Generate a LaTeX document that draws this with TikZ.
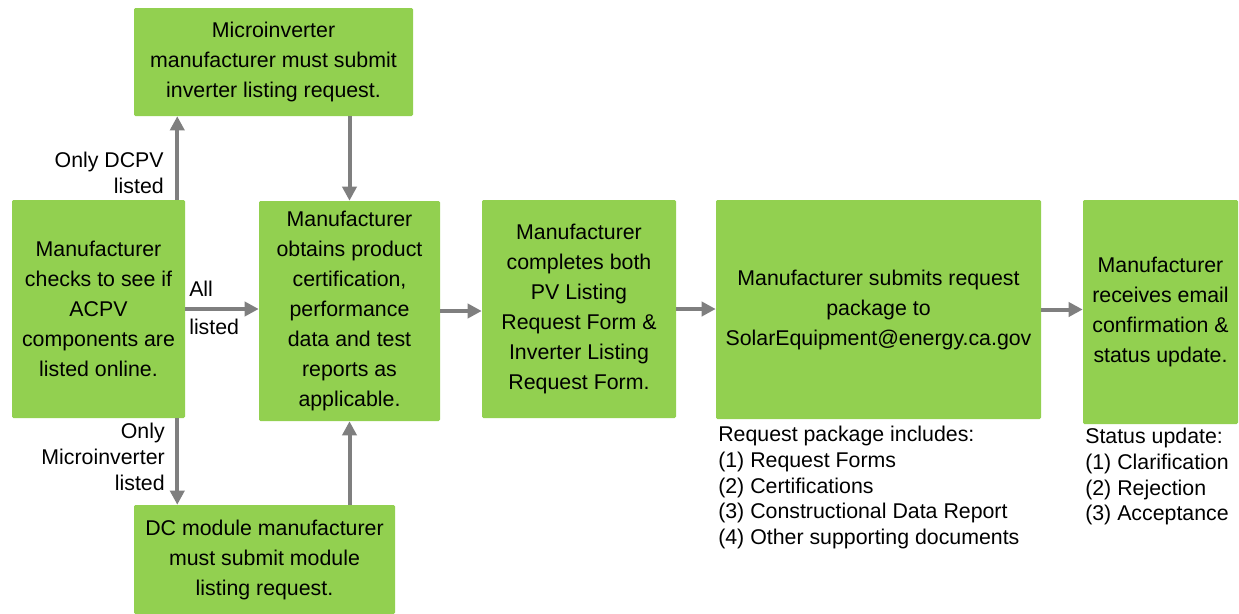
\documentclass[tikz,border=0pt]{standalone}
\usepackage{fontspec}
\setmainfont{Liberation Sans}
\usetikzlibrary{arrows.meta}
\definecolor{boxgreen}{RGB}{146,208,80}
\definecolor{arrowgray}{RGB}{127,127,127}

\begin{document}
\begin{tikzpicture}[x=0.75pt,y=0.75pt,yscale=-1,xscale=1,
  box/.style={fill=boxgreen, align=center, inner sep=0pt, rounded corners=1pt, font=\fontsize{16}{22.5}\selectfont},
  flow/.style={draw=arrowgray, line width=3pt, -{Triangle[length=10.5pt,width=10.5pt]}},
  lbl/.style={inner sep=0pt, font=\fontsize{16}{19.3}\selectfont}]
\useasboundingbox (0,0) rectangle (1239,614);

% Boxes
\node [box, minimum width=209.25pt, minimum height=81pt] (micro) at (273.5,62) {Microinverter\\manufacturer must submit\\inverter listing request.};
\node [box, minimum width=129.75pt, minimum height=163.5pt] (check) at (98.5,309) {Manufacturer\\checks to see if\\ACPV\\components are\\listed online.};
\node [box, minimum width=195.75pt, minimum height=81.75pt] (dcmod) at (264.5,559.5) {DC module manufacturer\\must submit module\\listing request.};
\node [box, minimum width=135.75pt, minimum height=165pt] (cert) at (349.5,311) {Manufacturer\\obtains product\\certification,\\performance\\data and test\\reports as\\applicable.};
\node [box, minimum width=145.5pt, minimum height=163.5pt] (complete) at (579,309) {Manufacturer\\completes both\\PV Listing\\Request Form \&\\Inverter Listing\\Request Form.};
\node [box, minimum width=243.75pt, minimum height=164.25pt] (submit) at (878.5,309.5) {Manufacturer submits request\\package to\\SolarEquipment@energy.ca.gov};
\node [box, minimum width=116.25pt, minimum height=168pt] (receives) at (1160.5,312) {Manufacturer\\receives email\\confirmation \&\\status update.};

% Arrows
\draw [flow] ([xshift=-6pt]check.north east) -- ([xshift=-6pt]check.north east |- micro.south);
\draw [flow] ([xshift=-6pt]check.south east) -- ([xshift=-6pt]check.south east |- dcmod.north);
\draw [flow] (cert.north |- micro.south) -- (cert.north);
\draw [flow] (cert.south |- dcmod.north) -- (cert.south);
\draw [flow] (check.east) -- (check.east -| cert.west);
\draw [flow] (cert.east) -- (cert.east -| complete.west);
\draw [flow] (complete.east) -- (complete.east -| submit.west);
\draw [flow] (submit.east) -- (submit.east -| receives.west);

% Text Node
\node [lbl, anchor=east, align=right] (dcpvlbl) at (164,173) {Only DCPV\\listed};
% Text Node
\node [lbl, anchor=west, align=left] (alllbl) at (189,308) {All\\[9pt]listed};
% Text Node
\node [lbl, anchor=east, align=right] (microlbl) at (165,457) {Only\\Microinverter\\listed};
% Text Node
\node [lbl, anchor=north west, align=left] (pkglbl) at (718,426) {Request package includes:\\(1) Request Forms\\(2) Certifications\\(3) Constructional Data Report\\(4) Other supporting documents};
% Text Node
\node [lbl, anchor=north west, align=left] (statuslbl) at (1085,428) {Status update:\\(1) Clarification\\(2) Rejection\\(3) Acceptance};

\end{tikzpicture}
\end{document}
